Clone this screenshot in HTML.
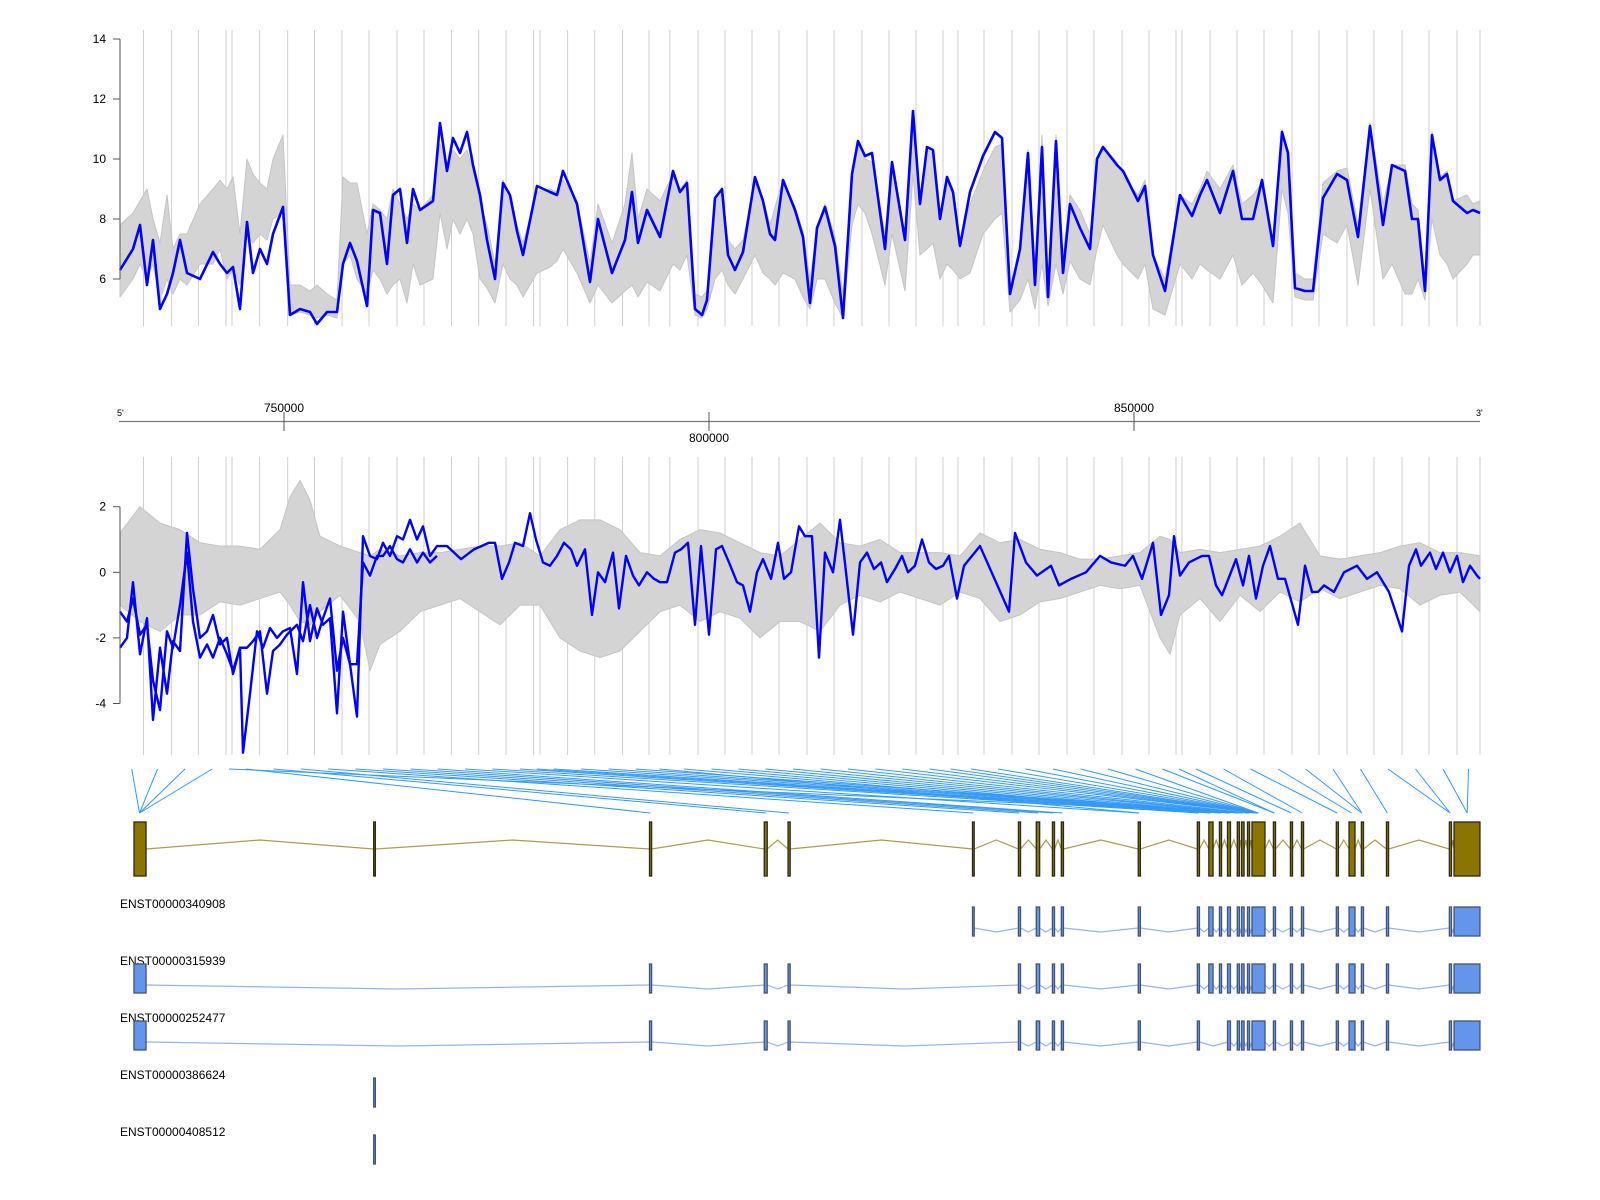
<!DOCTYPE html>
<html><head><meta charset="utf-8"><title>Exon probe expression plot</title>
<style>
html,body{margin:0;padding:0;background:#fff;}
svg{display:block;font-family:"Liberation Sans",Arial,sans-serif;}
</style></head>
<body>
<svg id="chart" width="1600" height="1200" viewBox="0 0 1600 1200" xmlns="http://www.w3.org/2000/svg"></svg>
<script>
// ---------- DATA ----------
const gridP=[2.35,5.16,7.84,10.6,11.2,13.96,16.77,19.45,22.2,24.9,27.7,30.4,33.15,35.87,38.6,41.36,42,44.76,47.48,50.25,52.9,54.98,57.8,60.5,63.2,65.9,68.7,71.4,74.2,76.9,79.6,82.3,83.8,86.4,89.2,91.9,94.7,97.4,100.2,102.9,105.6,106.2,109,111.7,114.4,117.2,119.9,122.7,125.4,128.2,130.9,133.7,136];
const topProbe=[0,1.3,2,2.7,3.3,4,4.7,5.3,6,6.7,8,9.3,10,10.7,11.3,12,12.7,13.3,14,14.7,15.3,16.3,17,18,19,19.7,20.7,21.7,22.3,23,23.7,24.7,25.3,26,26.7,27.3,28,28.7,29.3,30,31.3,32,32.7,33.3,34,34.7,35.3,36,36.7,37.5,38.3,39,39.7,40.3,41.7,43,43.7,44.3,45.7,47,47.8,49.2,50.5,51.2,51.8,52.7,54,55.3,56,56.7,57.5,58.2,58.7,59.5,60.2,60.8,61.5,62.3,63.5,64.3,65,65.5,66.3,67.5,68.3,69,69.7,70.5,71.5,72.3,73.2,73.8,74.5,75.2,76.5,77.2,78.5,79.3,80,80.7,81.3,82,82.7,83.3,84,85,86.3,87.5,88.2,89,90,90.8,91.5,92.2,92.8,93.6,94.3,95,96,97,97.7,98.3,99.7,100.3,101.8,102.5,103.3,104.5,106,107.2,108,108.7,110,111.3,112.2,113.3,114.2,115.3,116.2,116.8,117.5,118.5,119.3,120.3,121.7,122.7,123.8,125,126.3,127.2,128.5,129.2,129.8,130.5,131.2,132,132.7,133.3,134.7,135.3,136];
const topBlue=[6.3,7.0,7.8,5.8,7.3,5.0,5.5,6.2,7.3,6.2,6.0,6.9,6.5,6.2,6.4,5.0,7.9,6.2,7.0,6.5,7.5,8.4,4.8,5.0,4.9,4.5,4.9,4.9,6.5,7.2,6.6,5.1,8.3,8.2,6.5,8.8,9.0,7.2,9.0,8.3,8.6,11.2,9.6,10.7,10.2,10.9,9.8,8.8,7.3,6.0,9.2,8.8,7.6,6.8,9.1,8.9,8.8,9.6,8.5,5.9,8.0,6.2,7.3,8.9,7.2,8.3,7.4,9.6,8.9,9.2,5.0,4.8,5.3,8.7,9.0,6.8,6.3,6.9,9.4,8.6,7.5,7.3,9.3,8.3,7.4,5.2,7.7,8.4,7.1,4.7,9.5,10.6,10.1,10.2,7.0,9.9,7.3,11.6,8.5,10.4,10.3,8.0,9.4,8.9,7.1,8.9,10.1,10.9,10.7,5.5,7.0,10.2,5.8,10.4,5.4,10.6,6.2,8.5,7.7,7.0,10.0,10.4,9.8,9.6,8.6,9.1,6.8,5.6,8.8,8.1,8.8,9.3,8.2,9.6,8.0,8.0,9.3,7.1,10.9,10.2,5.7,5.6,5.6,8.7,9.5,9.3,7.4,11.1,7.8,9.8,9.6,8.0,8.0,5.6,10.8,9.3,9.5,8.6,8.2,8.3,8.2];
const topLo=[5.4,6.0,6.5,6.0,6.5,5.3,6.0,5.5,6.0,5.8,6.5,6.5,7.0,6.0,6.3,5.8,7.5,7.2,7.5,7.3,8.0,8.2,4.8,4.9,4.8,4.7,4.8,4.7,6.5,6.8,6.0,5.5,6.3,6.0,5.5,5.8,6.0,5.2,6.5,5.8,6.0,8.2,7.0,8.0,7.5,8.0,7.5,6.0,5.7,5.2,6.5,6.0,5.8,5.4,6.2,6.4,6.6,7.0,6.2,5.2,5.8,5.2,5.6,5.8,5.4,5.9,5.6,6.5,6.3,6.8,4.8,4.7,5.0,6.0,6.3,5.8,5.5,6.0,6.8,6.2,6.0,5.8,6.2,6.0,5.4,5.0,6.0,6.0,5.2,4.7,7.8,8.5,8.2,7.5,5.8,7.5,5.6,9.5,6.8,7.0,7.2,6.0,6.5,6.3,6.0,6.2,7.5,8.0,8.2,4.9,5.3,6.0,5.0,6.5,5.1,6.5,5.5,6.6,6.0,5.8,7.0,7.8,6.8,6.5,6.0,6.5,5.0,4.8,6.5,6.0,6.5,6.3,6.0,6.8,5.8,6.2,5.8,5.2,9.0,8.2,5.4,5.3,5.3,7.5,7.2,7.8,5.8,9.0,6.0,6.5,5.5,5.5,6.0,5.3,8.0,6.8,6.5,6.0,6.5,6.8,6.8];
const topHi=[7.8,8.2,8.6,9.0,8.0,7.2,8.8,7.0,7.5,7.5,8.5,9.0,9.3,9.0,9.4,7.5,10.0,9.5,9.2,9.0,10.0,10.8,5.8,5.8,5.6,5.8,5.5,5.3,9.4,9.2,9.2,7.5,8.5,8.3,8.0,9.0,8.5,8.0,8.5,8.3,8.8,10.5,9.8,10.3,10.0,10.3,9.6,8.5,7.8,6.5,9.3,8.8,7.8,7.2,8.9,9.0,8.9,9.3,8.6,6.5,8.5,7.2,8.5,10.2,8.0,9.0,8.6,9.5,9.0,9.3,5.5,5.4,5.6,8.7,8.9,7.3,7.0,7.3,9.2,8.7,7.8,8.4,9.3,8.4,7.6,6.0,7.7,8.5,7.4,5.5,9.6,10.5,10.0,9.9,7.5,9.8,7.5,11.6,8.7,10.3,10.2,8.0,9.3,8.8,7.3,8.5,9.6,10.4,10.5,5.8,6.8,10.3,6.5,10.8,6.0,10.8,6.8,8.8,8.3,7.5,10.0,10.4,9.9,9.4,8.8,9.3,6.8,6.0,8.8,8.5,9.0,9.6,9.0,9.8,8.5,8.8,9.2,7.2,11.0,10.2,6.2,6.0,6.0,9.2,9.6,9.7,7.8,11.2,8.5,9.8,9.8,8.5,8.3,6.0,10.9,9.4,9.6,8.6,8.8,8.5,8.6];
const botProbeA=[0,0.7,1.3,2,2.7,3.3,4,4.7,5.3,6,6.7,7.3,8,8.7,9.3,10,10.7,11.3,12,12.3,13,13.7,14.3,15,15.7,16.3,17,17.7,18.3,19,19.7,20.3,21,21.7,22.3,23,23.7,24.3,25,25.7,26.3,27,27.7,28.3,29,29.7,30.3,31,31.7,32.7,34.1,35.4,36.9,37.5,38.2,38.9,39.5,40.3,41,41.6,42.3,43,43.7,44.4,45.1,45.7,46.5,47.2,47.8,48.5,49.3,49.9,50.6,51.3,51.9,52.7,53.4,54,54.7,55.5,56.1,56.8,57.5,58.1,58.9,59.6,60.2,60.9,61.7,62.3,63,63.7,64.3,65.1,65.8,66.4,67.1,67.9,68.5,69.2,69.9,70.5,71.3,72,72.6,73.3,74,74.7,75.4,76.1,76.7,77.5,78.2,78.8,79.5,80.2,80.9,81.6,82.3,82.9,83.7,84.4,86,88.9,89.5,90.6,91.7,93.1,93.9,95.1,96.6,98,99.1,100.5,101.3,102.2,103.3,104.1,104.9,105.4,106,106.9,108.2,108.9,109.6,110.2,111.6,112.3,112.9,113.6,114.3,115,115.8,116.5,117.8,118.5,119.2,119.8,120.4,121.4,122.4,123.7,124.7,125.7,126.9,128.2,128.9,129.6,130.1,131,131.6,132.3,133,133.7,134.3,135,135.7,136];
const botBlueA=[-2.3,-2.0,-0.3,-2.5,-1.4,-4.5,-2.3,-3.7,-2.1,-2.4,1.2,-0.5,-2.0,-1.8,-1.3,-2.2,-2.0,-3.1,-2.3,-5.5,-3.7,-1.8,-2.3,-1.7,-2.0,-1.8,-1.7,-3.1,-0.3,-2.1,-1.1,-1.6,-1.4,-4.3,-1.2,-2.8,-4.4,1.1,0.5,0.4,0.9,0.5,1.1,1.0,1.6,1.0,1.4,0.5,0.8,0.8,0.4,0.7,0.9,0.9,-0.2,0.3,0.9,0.8,1.8,1.0,0.3,0.2,0.5,0.9,0.7,0.2,0.7,-1.3,0.0,-0.3,0.6,-1.1,0.5,-0.1,-0.4,0.0,-0.2,-0.3,-0.3,0.6,0.7,0.9,-1.6,0.8,-1.9,0.7,0.8,0.3,-0.3,-0.4,-1.2,0.0,0.4,-0.2,0.9,-0.2,0.0,1.4,1.1,1.1,-2.6,0.6,0.0,1.6,0.0,-1.9,0.3,0.6,0.1,0.3,-0.3,0.1,0.5,0.0,0.2,1.0,0.3,0.1,0.2,0.5,-0.8,0.2,0.8,-1.2,1.2,0.3,-0.1,0.2,-0.4,-0.2,0.0,0.5,0.3,0.2,0.5,-0.2,0.9,-1.3,-0.7,1.1,-0.1,0.3,0.5,0.5,-0.4,-0.7,0.4,-0.4,0.5,-0.8,0.2,0.8,-0.2,-0.2,-1.6,0.2,-0.6,-0.6,-0.4,-0.6,0.0,0.2,-0.2,0.0,-0.6,-1.8,0.2,0.7,0.2,0.6,0.1,0.6,0.0,0.5,-0.3,0.2,-0.1,-0.2];
const botProbeB=[0,0.7,1.3,2,2.7,3.3,4,4.7,5.3,6,6.7,7.3,8,8.7,9.3,10,10.7,11.3,12,12.7,13.3,14,14.7,15.3,16,16.7,17.7,18.3,19,19.7,20.3,21,21.7,22.3,23,23.7,24.3,25,25.7,26.3,27,27.7,28.3,29,29.7,30.3,31,31.7];
const botBlueB=[-1.2,-1.5,-0.8,-1.9,-1.6,-3.3,-4.2,-1.8,-2.3,-1.0,0.6,-1.5,-2.6,-2.2,-2.6,-2.0,-2.5,-3.0,-2.3,-2.3,-2.1,-1.8,-3.7,-2.4,-2.2,-1.9,-1.6,-2.1,-1.0,-2.0,-1.4,-0.8,-3.0,-2.0,-2.8,-2.8,0.3,-0.1,0.5,0.5,0.8,0.4,0.3,0.7,0.3,0.6,0.3,0.5];
const botGreyProbe=[0,2,4,6,8,10,12,14,16,17,18,19,20,22,24,25,26,28,30,32,34,36,38,40,42,44,46,48,50,52,54,56,58,60,62,64,66,68,70,72,74,76,78,80,82,84,86,88,90,92,94,96,98,100,102,104,105,106,108,110,112,114,116,118,120,122,124,126,128,130,132,134,136];
const botGreyHi=[1.2,2.0,1.5,1.3,0.9,0.8,0.8,0.7,1.3,2.3,2.8,2.2,1.1,0.8,0.6,0.5,0.7,0.5,0.6,0.6,0.7,0.8,0.8,0.9,0.5,1.3,1.6,1.6,1.3,0.6,0.5,1.0,1.3,1.2,0.9,0.6,0.5,1.0,1.5,0.9,0.8,1.0,0.6,0.6,0.6,0.5,1.2,0.9,1.0,0.7,0.6,0.4,0.4,0.5,0.6,1.1,1.0,0.6,0.7,0.6,0.7,0.8,1.1,1.5,0.5,0.4,0.5,0.6,0.8,0.9,0.6,0.6,0.5];
const botGreyLo=[-1.0,-1.5,-1.8,-1.3,-1.3,-0.9,-1.0,-0.8,-0.6,-1.0,-1.5,-1.6,-1.2,-0.7,-1.5,-3.0,-2.2,-1.8,-1.2,-1.0,-0.8,-1.2,-1.6,-1.0,-1.0,-2.0,-2.4,-2.6,-2.4,-1.8,-1.2,-1.0,-1.5,-1.2,-1.4,-2.0,-1.5,-1.5,-1.8,-1.0,-0.7,-0.9,-0.6,-0.8,-1.0,-0.6,-0.8,-1.5,-1.3,-0.9,-0.8,-0.6,-0.4,-0.5,-0.4,-2.0,-2.5,-1.3,-0.8,-1.5,-0.7,-1.2,-0.6,-0.9,-0.5,-0.8,-0.6,-0.4,-0.5,-1.0,-0.7,-0.6,-1.2];
const exonStart=[732.35,760.55,793.0,806.5,809.3,831.0,836.4,838.5,840.4,841.45,850.5,857.45,858.8,860.05,861.0,862.15,862.65,863.35,863.88,866.4,868.4,869.7,873.8,875.3,876.75,879.7,887.1,887.65];
const exonEnd=[733.77,760.75,793.25,806.85,809.55,831.2,836.65,838.9,840.65,841.7,850.75,857.7,859.3,860.3,861.35,862.4,862.95,863.6,865.41,866.65,868.65,869.95,874.05,876.0,877.0,879.95,887.35,890.7];
const linkTarget=[733,733,733,733,864.6,793.1,806.7,809.4,831.1,836.5,838.7,840.5,841.6,850.6,857.6,859.0,860.2,861.2,862.3,862.8,863.5,850.6,857.6,859.0,860.2,861.2,862.3,862.8,863.5,864.6,864.6,864.6,864.6,864.6,864.6,864.6,864.6,864.6,864.6,864.6,866.5,866.5,868.5,869.8,873.9,875.6,876.8,876.8,879.8,887.2,887.2,889.2,889.2];
const txNames=["ENST00000340908","ENST00000315939","ENST00000252477","ENST00000386624","ENST00000408512"];
const txExons=[
 [5,6,7,8,9,10,11,12,13,14,15,16,17,18,19,20,21,22,23,24,25,26,27],
 [0,2,3,4,6,7,8,9,10,11,12,13,14,15,16,17,18,19,20,21,22,23,24,25,26,27],
 [0,2,3,4,6,7,8,9,10,11,14,15,16,17,18,19,20,21,22,23,24,25,26,27],
 [1],[1]];
const topTicks=[6,8,10,12,14];
const botTicks=[-4,-2,0,2];
const genomeTicks=[750000,800000,850000];

// ---------- SCALES ----------
const svg=document.getElementById('chart');
const NS='http://www.w3.org/2000/svg';
const xp=p=>120+p*10;
const yT=v=>279-(v-6)*30;
const yB=v=>572.3-v*32.8;
const xg=kb=>709+(kb-800)*8.5;
function mk(tag,attrs,parent){const e=document.createElementNS(NS,tag);for(const k in attrs)e.setAttribute(k,attrs[k]);(parent||svg).appendChild(e);return e;}
function grp(){const g=document.createElementNS(NS,'g');svg.appendChild(g);return g;}

const gGrid=grp();


gridP.forEach(p=>{
  const l1=mk('line',{x1:xp(p),x2:xp(p),y1:30,y2:326,stroke:'#cfcfcf','stroke-width':1},gGrid);
  
  
  const l2=mk('line',{x1:xp(p),x2:xp(p),y1:457,y2:755,stroke:'#cfcfcf','stroke-width':1},gGrid);
  
  
});

function band(px,lo,hi,ys,name){
  let d='M'+px.map((p,i)=>xp(p)+','+ys(hi[i])).join('L');
  for(let i=px.length-1;i>=0;i--)d+='L'+xp(px[i])+','+ys(lo[i]);
  d+='Z';
  const b=mk('path',{d:d,fill:'#d4d4d4',stroke:'#c4c4c4','stroke-width':1,'stroke-linejoin':'round'});
  
  
}
function line(px,vals,ys,name,w){
  const d='M'+px.map((p,i)=>xp(p)+','+ys(vals[i])).join('L');
  const l=mk('path',{d:d,fill:'none',stroke:'#0000ff','stroke-width':w,'stroke-linejoin':'round'});
  
  
}
band(topProbe,topLo,topHi,yT,'top-sample-band');
line(topProbe,topBlue,yT,'top-highlight-line',2.6);
const ta=mk('line',{x1:120,x2:120,y1:yT(6),y2:yT(14),stroke:'#555','stroke-width':1});


topTicks.forEach(t=>{
  const tk=mk('line',{x1:113,x2:120,y1:yT(t),y2:yT(t),stroke:'#555'});
  
  
  const tx=mk('text',{x:106,y:yT(t)+4,'text-anchor':'end','font-size':12,fill:'#000'});
  tx.textContent=t;
  
  
});
const ga=mk('line',{x1:119,x2:1480,y1:421.5,y2:421.5,stroke:'#777','stroke-width':1.3});


const t5=mk('text',{x:117,y:416,'font-size':9,fill:'#000'});t5.textContent="5'";


const t3=mk('text',{x:1476,y:416,'font-size':9,fill:'#000'});t3.textContent="3'";


genomeTicks.forEach((g,i)=>{
  const x=xg(g/1000);
  const tk=mk('line',{x1:x,x2:x,y1:412,y2:431,stroke:'#555'});
  
  
  const up=(i%2===0);
  const tx=mk('text',{x:x,y:up?412:442,'text-anchor':'middle','font-size':12,fill:'#000'});
  tx.textContent=g;
  
  
});
band(botGreyProbe,botGreyLo,botGreyHi,yB,'bottom-sample-band');
line(botProbeB,botBlueB,yB,'bottom-highlight-line-b',2.4);
line(botProbeA,botBlueA,yB,'bottom-highlight-line-a',2.4);
const ba=mk('line',{x1:120,x2:120,y1:yB(-4),y2:yB(2),stroke:'#555'});


botTicks.forEach(t=>{
  const tk=mk('line',{x1:113,x2:120,y1:yB(t),y2:yB(t),stroke:'#555'});
  
  
  const tx=mk('text',{x:106,y:yB(t)+4,'text-anchor':'end','font-size':12,fill:'#000'});
  tx.textContent=t;
  
  
});
const bounds=[0].concat(gridP);
linkTarget.forEach((kb,i)=>{
  const xt=xp((bounds[i]+bounds[i+1])/2);
  const l=mk('line',{x1:xt,y1:769,x2:xg(kb),y2:813,stroke:'#3399ff','stroke-width':1});
  
  
});
function model(idx,top,h,fill,stroke,lineCol,base,bend,name){
  const g=grp();
  
  
  let d='';
  for(let k=0;k<idx.length-1;k++){
    const a=xg(exonEnd[idx[k]]),b=xg(exonStart[idx[k+1]]);
    d+='M'+a+','+base+'L'+((a+b)/2)+','+bend+'L'+b+','+base;
  }
  if(d){const p=mk('path',{d:d,fill:'none',stroke:lineCol,'stroke-width':1.2},g);
  
  }
  idx.forEach(i=>{
    const x=xg(exonStart[i]),w=Math.max(1.5,xg(exonEnd[i])-x);
    const r=mk('rect',{x:x,y:top,width:w,height:h,fill:fill,stroke:stroke,'stroke-width':1.3},g);
    
    
  });
}
model(exonStart.map((_,i)=>i),822,54,'#8b7500','#2a2a1a','#b09a50',849,840,'gene-model');
const rowTop=[907,964,1021,1078,1135];
txNames.forEach((n,r)=>{
  const t=mk('text',{x:120,y:rowTop[r]+1,'font-size':12,fill:'#000'});
  t.textContent=n;
  
  
  model(txExons[r],rowTop[r],29,'#6495ed','#465670','#94b4ee',rowTop[r]+21,rowTop[r]+25,'transcript-model');
});
</script>
</body></html>
